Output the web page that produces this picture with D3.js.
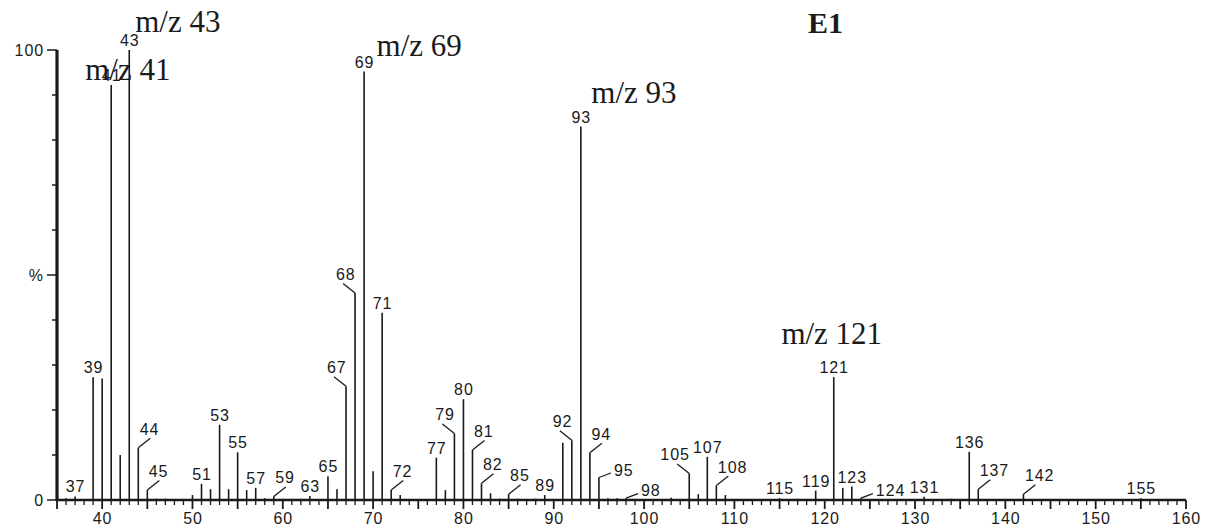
<!DOCTYPE html>
<html><head><meta charset="utf-8">
<script src="https://cdn.jsdelivr.net/npm/d3@7"></script>
<style>
html,body{margin:0;padding:0;background:#fff;}
svg{display:block;}
</style></head>
<body>
<svg id="chart" width="1211" height="531"></svg>
<script>
// ---- data ----
const mzValues = [36,37,39,40,41,42,43,44,45,46,47,50,51,52,53,54,55,56,57,58,59,60,61,62,63,65,66,67,68,69,70,71,72,73,77,78,79,80,81,82,83,84,85,86,88,89,91,92,93,94,95,96,97,98,103,105,106,107,108,109,115,117,119,121,122,123,124,131,134,136,137,142,155];
const intensities = [0.4,0.8,27.3,27,92.2,10,100,11.6,2.2,0.3,0.3,1.1,3.6,2.4,16.7,2.4,10.6,2.2,2.7,0.4,0.8,0.3,0.3,0.3,0.9,5.3,2.4,25.3,46,95.2,6.4,41.6,2.2,1.1,9.4,2.2,14.8,22.4,11.1,3.7,1.5,0.3,1.3,0.3,0.3,1.1,12.7,13.3,83,10.5,5,0.4,0.4,0.4,0.5,5.9,1.3,9.6,3.2,1.1,0.4,0.3,2.1,27.3,2.7,3,0.4,0.7,0.3,10.7,2.4,1.3,0.4];
const labelledMz = [37,39,41,43,44,45,51,53,55,57,59,63,65,67,68,69,71,72,77,79,80,81,82,85,89,92,93,94,95,98,105,107,108,115,119,121,123,124,131,136,137,142,155];
const labelPlacement = ["a","a","a","a","r","r","a","a","a","a","r","a","a","l","l","a","a","r","a","l","a","r","r","r","a","l","a","r","s","s","l","a","r","a","a","a","a","s","a","a","r","r","a"];
const xTickValues = [40,50,60,70,80,90,100,110,120,130,140,150,160];
const yTickLabels = [{v:0,t:"0"},{v:50,t:"%"},{v:100,t:"100"}];
const annotationMz = [43,41,69,93,121];
const annotationText = ["m/z 43","m/z 41","m/z 69","m/z 93","m/z 121"];
const title = "E1";

// ---- layout ----
const svg = d3.select("#chart");
const x = d3.scaleLinear().domain([35,160]).range([57,1186]);
const y = d3.scaleLinear().domain([0,100]).range([500,50]);
const ink = "#1a1a1a";
const sans = "Liberation Sans, Arial, Helvetica, sans-serif";
const serif = "Liberation Serif, Times New Roman, serif";
const labelSize = 16, labelSpacing = 0.9;

const peaks = mzValues.map((m,i)=>({mz:m, v:intensities[i]}));
const byMz = new Map(peaks.map(p=>[p.mz,p]));

// peaks
svg.append("g").selectAll("line").data(peaks).join("line")
  .attr("x1",d=>x(d.mz)).attr("x2",d=>x(d.mz))
  .attr("y1",y(0)).attr("y2",d=>y(d.v))
  .attr("stroke",ink).attr("stroke-width",1.6);

// x axis
const xAxisG = svg.append("g").attr("transform",`translate(0,${y(0)})`);
xAxisG.append("line").attr("x1",x(35)).attr("x2",x(160)).attr("y1",0).attr("y2",0)
  .attr("stroke",ink).attr("stroke-width",2.5);
xAxisG.selectAll("line.tick").data(d3.range(35,161)).join("line").attr("class","tick")
  .attr("x1",d=>x(d)).attr("x2",d=>x(d)).attr("y1",0).attr("y2",d=>d%5===0?9:5)
  .attr("stroke",ink).attr("stroke-width",d=>d%5===0?1.8:1.3);
xAxisG.selectAll("text").data(xTickValues).join("text")
  .attr("x",d=>x(d)+labelSpacing/2).attr("y",24).attr("text-anchor","middle")
  .attr("font-family",sans).attr("font-size",labelSize).attr("letter-spacing",labelSpacing)
  .attr("fill",ink).text(d=>d);

// y axis
const yAxisG = svg.append("g").attr("transform",`translate(${x(35)},0)`);
yAxisG.append("line").attr("x1",0).attr("x2",0).attr("y1",y(0)+1).attr("y2",y(100))
  .attr("stroke",ink).attr("stroke-width",3.2);
yAxisG.selectAll("line.tick").data(d3.range(0,101,10)).join("line").attr("class","tick")
  .attr("x1",d=>d%50===0?-10:-5).attr("x2",0).attr("y1",d=>y(d)).attr("y2",d=>y(d))
  .attr("stroke",ink).attr("stroke-width",1.5);
yAxisG.selectAll("text").data(yTickLabels).join("text")
  .attr("x",-13).attr("y",d=>y(d.v)).attr("dy","0.36em").attr("text-anchor","end")
  .attr("font-family",sans).attr("font-size",labelSize).attr("letter-spacing",labelSpacing)
  .attr("fill",ink).text(d=>d.t);

// peak labels
const lg = svg.append("g");
labelledMz.forEach((m,i)=>{
  const p = byMz.get(m); const px = x(m), top = y(p.v); const t = labelPlacement[i];
  let tx=px+labelSpacing/2, ty=top-4, anchor="middle";
  if(t==="r"){ lg.append("line").attr("x1",px).attr("y1",top).attr("x2",px+12).attr("y2",top-9.5).attr("stroke",ink).attr("stroke-width",1.3); tx=px+1.5; ty=top-13; anchor="start"; }
  else if(t==="l"){ lg.append("line").attr("x1",px).attr("y1",top).attr("x2",px-12).attr("y2",top-9.5).attr("stroke",ink).attr("stroke-width",1.3); tx=px+0.5; ty=top-13; anchor="end"; }
  else if(t==="s"){ lg.append("line").attr("x1",px).attr("y1",top).attr("x2",px+12).attr("y2",top-4.5).attr("stroke",ink).attr("stroke-width",1.3); tx=px+15; ty=top-2; anchor="start"; }
  lg.append("text").attr("x",tx).attr("y",ty).attr("text-anchor",anchor)
    .attr("font-family",sans).attr("font-size",labelSize).attr("letter-spacing",labelSpacing)
    .attr("fill",ink).text(m);
});

// annotations (offsets relative to the peak top)
const annOffsets = {43:[6,-18,"start"],41:[-26,-5,"start"],69:[12.5,-16,"start"],93:[10.5,-24,"start"],121:[-2,-33,"middle"]};
annotationMz.forEach((m,i)=>{
  const p = byMz.get(m); const o = annOffsets[m];
  svg.append("text").attr("x",x(m)+o[0]).attr("y",y(p.v)+o[1]).attr("text-anchor",o[2])
    .attr("font-family",serif).attr("font-size",31).attr("fill",ink).text(annotationText[i]);
});

svg.append("text").attr("x",808).attr("y",33).attr("font-family",serif).attr("font-weight","bold")
  .attr("font-size",30).attr("fill",ink).text(title);
</script>
</body></html>
